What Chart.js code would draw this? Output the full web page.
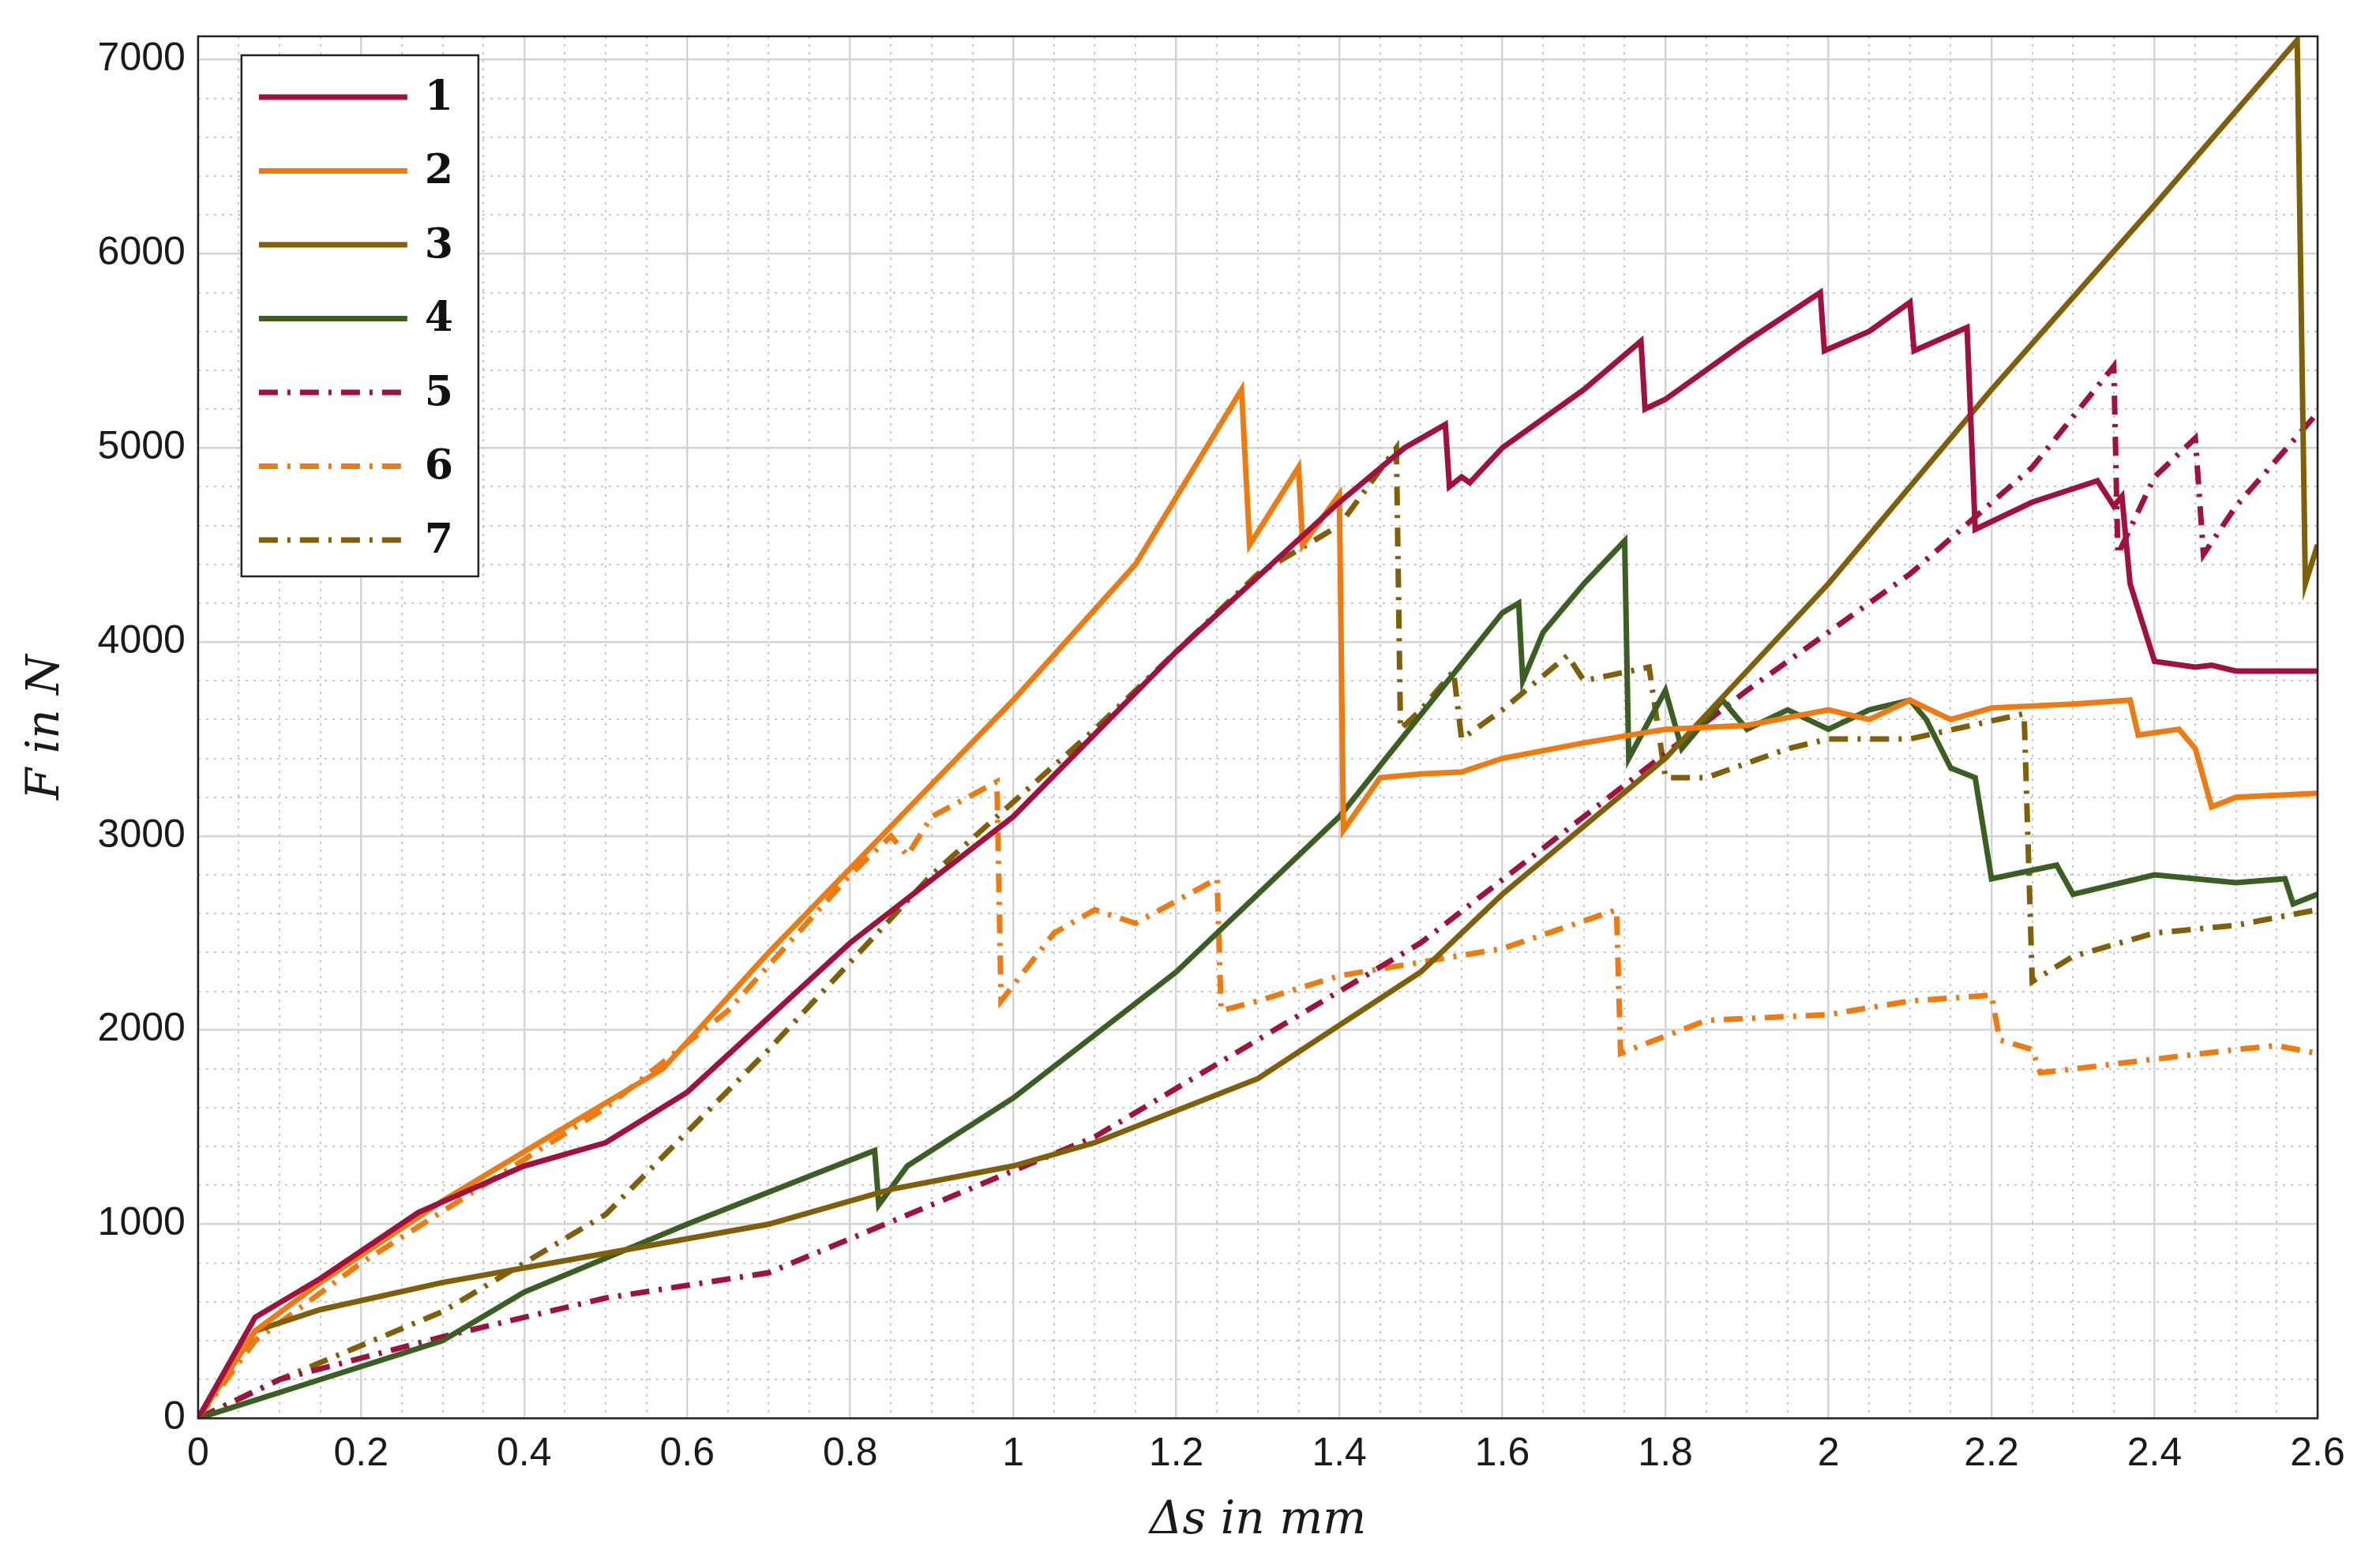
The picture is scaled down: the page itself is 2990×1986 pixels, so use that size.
<!DOCTYPE html>
<html><head><meta charset="utf-8">
<script src="https://cdn.jsdelivr.net/npm/chart.js@4"></script>
<style>html,body{margin:0;padding:0;background:#fff}#w{width:2990px;height:1986px}</style>
</head><body><div id="w"><canvas id="c"></canvas></div>
<script>
const seriesNames=["1","2","3","4","5","6","7"];
const s1=[[0,0],[0.07,520],[0.15,720],[0.27,1060],[0.4,1300],[0.5,1420],[0.6,1680],[0.8,2450],[1.0,3100],[1.2,3950],[1.4,4720],[1.48,5000],[1.53,5120],[1.535,4800],[1.55,4850],[1.56,4820],[1.6,5000],[1.7,5300],[1.77,5550],[1.775,5200],[1.8,5250],[1.9,5550],[1.99,5800],[1.995,5500],[2.05,5600],[2.1,5750],[2.105,5500],[2.17,5620],[2.18,4580],[2.25,4720],[2.33,4830],[2.35,4700],[2.36,4750],[2.37,4300],[2.4,3900],[2.45,3870],[2.47,3880],[2.5,3850],[2.6,3850]];
const s2=[[0,0],[0.07,450],[0.15,700],[0.3,1120],[0.45,1500],[0.57,1800],[0.7,2400],[0.85,3050],[1.0,3700],[1.15,4400],[1.28,5300],[1.29,4500],[1.35,4900],[1.355,4500],[1.4,4760],[1.405,3030],[1.45,3300],[1.5,3320],[1.55,3330],[1.6,3400],[1.7,3480],[1.8,3550],[1.9,3570],[2.0,3650],[2.05,3600],[2.1,3700],[2.15,3600],[2.2,3660],[2.3,3680],[2.37,3700],[2.38,3520],[2.43,3550],[2.45,3450],[2.47,3150],[2.5,3200],[2.6,3220]];
const s3=[[0,0],[0.07,450],[0.15,560],[0.3,700],[0.5,850],[0.7,1000],[0.85,1180],[1.0,1300],[1.1,1420],[1.3,1750],[1.5,2300],[1.6,2700],[1.8,3400],[2.0,4300],[2.2,5300],[2.4,6250],[2.575,7100],[2.585,4300],[2.6,4500]];
const s4=[[0,0],[0.15,200],[0.3,400],[0.4,650],[0.6,1000],[0.83,1380],[0.835,1100],[0.87,1300],[1.0,1650],[1.2,2300],[1.4,3100],[1.6,4150],[1.62,4200],[1.625,3800],[1.65,4050],[1.7,4300],[1.75,4520],[1.755,3400],[1.8,3750],[1.82,3450],[1.87,3700],[1.9,3550],[1.95,3650],[2.0,3550],[2.05,3650],[2.1,3700],[2.12,3600],[2.15,3350],[2.18,3300],[2.2,2780],[2.28,2850],[2.3,2700],[2.4,2800],[2.5,2760],[2.56,2780],[2.57,2650],[2.6,2700]];
const s5=[[0,0],[0.1,200],[0.3,420],[0.5,620],[0.7,750],[0.9,1100],[1.1,1450],[1.3,1950],[1.5,2450],[1.7,3100],[1.9,3750],[2.1,4350],[2.25,4900],[2.35,5420],[2.355,4450],[2.4,4850],[2.45,5050],[2.46,4450],[2.5,4700],[2.6,5180]];
const s6=[[0,0],[0.07,400],[0.2,800],[0.35,1200],[0.5,1600],[0.65,2100],[0.8,2800],[0.85,3000],[0.87,2900],[0.9,3100],[0.98,3280],[0.985,2150],[1.05,2500],[1.1,2620],[1.15,2550],[1.25,2780],[1.255,2100],[1.3,2150],[1.4,2280],[1.5,2350],[1.6,2420],[1.74,2620],[1.745,1880],[1.85,2050],[2.0,2080],[2.1,2150],[2.2,2180],[2.21,1950],[2.25,1900],[2.26,1780],[2.4,1850],[2.5,1900],[2.55,1920],[2.6,1880]];
const s7=[[0,0],[0.1,200],[0.3,550],[0.5,1050],[0.7,1900],[0.9,2800],[1.1,3550],[1.3,4350],[1.4,4600],[1.47,5000],[1.475,3550],[1.5,3650],[1.54,3850],[1.55,3500],[1.6,3650],[1.68,3930],[1.7,3800],[1.78,3870],[1.8,3300],[1.85,3300],[1.95,3450],[2.0,3500],[2.1,3500],[2.24,3630],[2.25,2250],[2.3,2380],[2.4,2500],[2.5,2540],[2.6,2620]];
const xTicks=[0,0.2,0.4,0.6,0.8,1,1.2,1.4,1.6,1.8,2,2.2,2.4,2.6];
const yTicks=[0,1000,2000,3000,4000,5000,6000,7000];
const all=[s1,s2,s3,s4,s5,s6,s7];
const cols=['#A0113D','#EE7B12','#7F5F07','#3B5F22','#A0113D','#EE7B12','#7F5F07'];
const DD=[24,12,4,12];
const datasets=all.map((s,i)=>({label:seriesNames[i],data:s.map(p=>({x:p[0],y:p[1]})),borderColor:cols[i],borderWidth:7,borderDash:i>=4?DD:[],pointRadius:0,tension:0,fill:false,xAxisID:'x',yAxisID:'y'}));
const legendPlugin={id:'lg',afterDraw(ch){const c=ch.ctx;const a=ch.chartArea;const x0=a.left+55,y0=a.top+24,w=300,h=660;
c.save();c.fillStyle='#fff';c.fillRect(x0,y0,w,h);c.strokeStyle='#222';c.lineWidth=2.5;c.strokeRect(x0,y0,w,h);
ch.data.datasets.forEach((d,i)=>{const y=y0+53+i*93.5;c.strokeStyle=d.borderColor;c.lineWidth=7;c.setLineDash(d.borderDash);c.beginPath();c.moveTo(x0+22,y);c.lineTo(x0+210,y);c.stroke();c.setLineDash([]);
c.fillStyle='#111';c.font='bold 52px "DejaVu Serif"';c.textBaseline='middle';c.fillText(d.label,x0+232,y+2);});
c.strokeStyle='#222';c.lineWidth=2.5;c.strokeRect(a.left,a.top,a.right-a.left,a.bottom-a.top);c.restore();}};
const tickFont={family:'"Liberation Sans", Arial',size:50};
new Chart(document.getElementById('c'),{type:'line',data:{datasets},plugins:[legendPlugin],
options:{responsive:true,maintainAspectRatio:false,animation:false,devicePixelRatio:1,
layout:{padding:{left:20,right:55,top:30,bottom:20}},
plugins:{legend:{display:false},tooltip:{enabled:false}},
scales:{
x:{type:'linear',min:0,max:2.6,afterBuildTicks:ax=>{ax.ticks=xTicks.map(v=>({value:v}));},
ticks:{font:tickFont,color:'#1a1a1a',padding:16,callback:v=>String(v)},
grid:{color:'#d4d4d4',lineWidth:2.5,tickLength:0},border:{display:false},
title:{display:true,text:'Δs in mm',font:{family:'"DejaVu Serif"',style:'italic',size:58},color:'#1a1a1a',padding:{top:4}}},
y:{type:'linear',min:0,max:7120,afterBuildTicks:ax=>{ax.ticks=yTicks.map(v=>({value:v}));},
ticks:{font:tickFont,color:'#1a1a1a',padding:16,callback:v=>String(v)},
grid:{color:'#d4d4d4',lineWidth:2.5,tickLength:0},border:{display:false},
title:{display:true,text:'F in N',font:{family:'"DejaVu Serif"',style:'italic',size:58},color:'#1a1a1a',padding:{bottom:14}}},
x2:{type:'linear',position:'bottom',min:0,max:2.6,display:true,afterBuildTicks:ax=>{const t=[];for(let i=0;i<=52;i++){if(i%4)t.push({value:i*0.05});}ax.ticks=t;},
ticks:{display:false},grid:{color:'#c8c8c8',lineWidth:2,tickLength:0,drawTicks:false},border:{display:false,dash:[3,7]}},
y2:{type:'linear',position:'left',min:0,max:7120,display:true,afterBuildTicks:ax=>{const t=[];for(let i=0;i<=35;i++){if(i%5)t.push({value:i*200});}ax.ticks=t;},
ticks:{display:false},grid:{color:'#c8c8c8',lineWidth:2,tickLength:0,drawTicks:false},border:{display:false,dash:[3,7]}}
}}});
</script></body></html>
